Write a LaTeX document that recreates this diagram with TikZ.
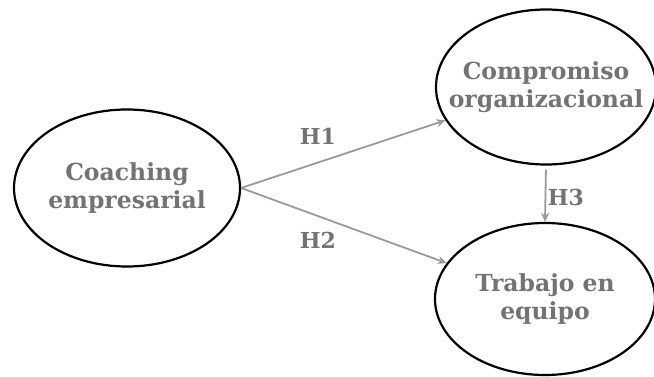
\documentclass[tikz,border=0pt]{standalone}
\usepackage{fontspec}
\setmainfont{DejaVu Serif}
\usetikzlibrary{shapes.geometric,arrows.meta}
\definecolor{txtgray}{HTML}{737373}
\definecolor{arrgray}{HTML}{9A9A9A}
\tikzset{
  construct/.style={ellipse, draw=black, line width=2.2pt, inner sep=0pt},
  ctext/.style={align=center, text=txtgray, inner sep=0pt,
    font=\fontsize{23.5}{28}\selectfont\bfseries},
  hyp/.style={draw=arrgray, line width=1.8pt, -{Stealth[length=9pt,width=8pt]}},
  hlabel/.style={text=txtgray, font=\fontsize{22}{24}\selectfont\bfseries}
}
\begin{document}
\begin{tikzpicture}[x=1pt,y=-1pt]
\useasboundingbox (0,0) rectangle (654,377);
\node[construct, minimum width=226pt, minimum height=157pt] (C) at (127,188) {};
\node[ctext] (Ct) at (C.center) {Coaching\\empresarial};
\node[construct, minimum width=220pt, minimum height=155pt] (O) at (546,87) {};
\node[ctext] (Ot) at (O.center) {Compromiso\\organizacional};
\node[construct, minimum width=220pt, minimum height=152pt] (T) at (545,299) {};
\node[ctext] (Tt) at (T.center) {Trabajo en\\equipo};
\draw[hyp] (C.east) -- (O);
\draw[hyp] (C.east) -- (T);
\draw[hyp, shorten <=4pt] (O.south) -- (T.north);
\node[hlabel] (h1) at (318,136) {H1};
\node[hlabel] (h2) at (318,240) {H2};
\node[hlabel] (h3) at (566,197) {H3};
\end{tikzpicture}
\end{document}
